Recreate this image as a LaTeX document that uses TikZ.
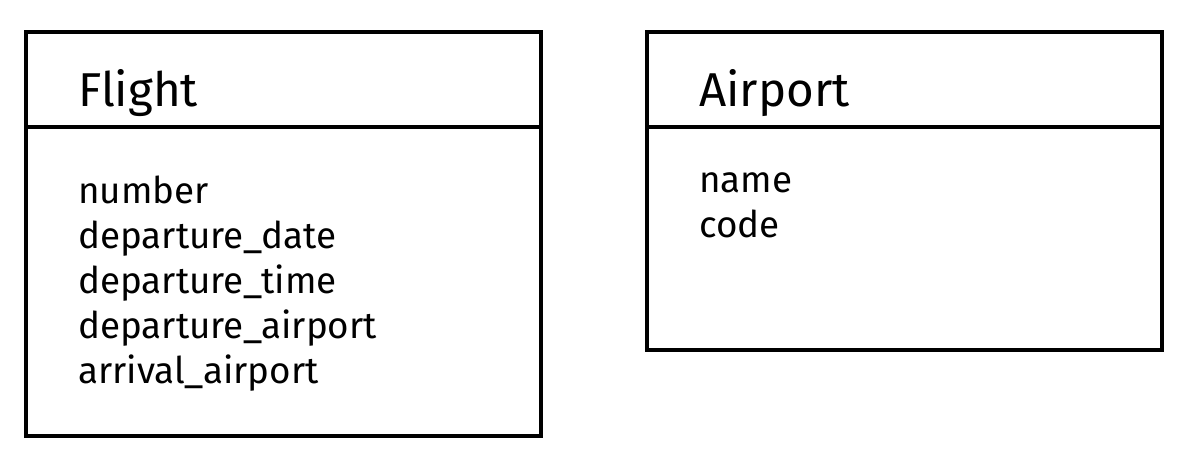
\documentclass[tikz,border=0pt]{standalone}
\usepackage{fontspec}
\setmainfont{Fira Sans}
\usetikzlibrary{positioning}
\tikzset{
  classhead/.style={draw=black, line width=4pt, minimum width=515pt, minimum height=95pt, inner sep=0pt, outer sep=0pt, anchor=north west},
  classbody/.style={draw=black, line width=4pt, minimum width=515pt, inner sep=0pt, outer sep=0pt, anchor=north},
  classname/.style={anchor=base west, inner sep=0pt, font=\fontsize{47.5}{50}\selectfont},
  attrlist/.style={anchor=base west, inner sep=0pt, align=left, font=\fontsize{36.8}{45}\selectfont}
}

\begin{document}
\begin{tikzpicture}[x=1pt, y=-1pt]
  \useasboundingbox (0,0) rectangle (1183,451);
  % Flight class
  \node[classhead] (flighthead) at (26,32) {};
  \node[classbody, minimum height=309pt] (flightbody) at (flighthead.south) {};
  \node[classname] (flightname) at (78,106) {Flight};
  % base = baseline of last line
  \node[attrlist] (flightattrs) at (78,383) {number\\departure\_date\\departure\_time\\departure\_airport\\arrival\_airport};
  % Airport class
  \node[classhead] (airporthead) at (647,32) {};
  \node[classbody, minimum height=223pt] (airportbody) at (airporthead.south) {};
  \node[classname] (airportname) at (699,106) {Airport};
  \node[attrlist] (airportattrs) at (699,237) {name\\code};
\end{tikzpicture}
\end{document}
